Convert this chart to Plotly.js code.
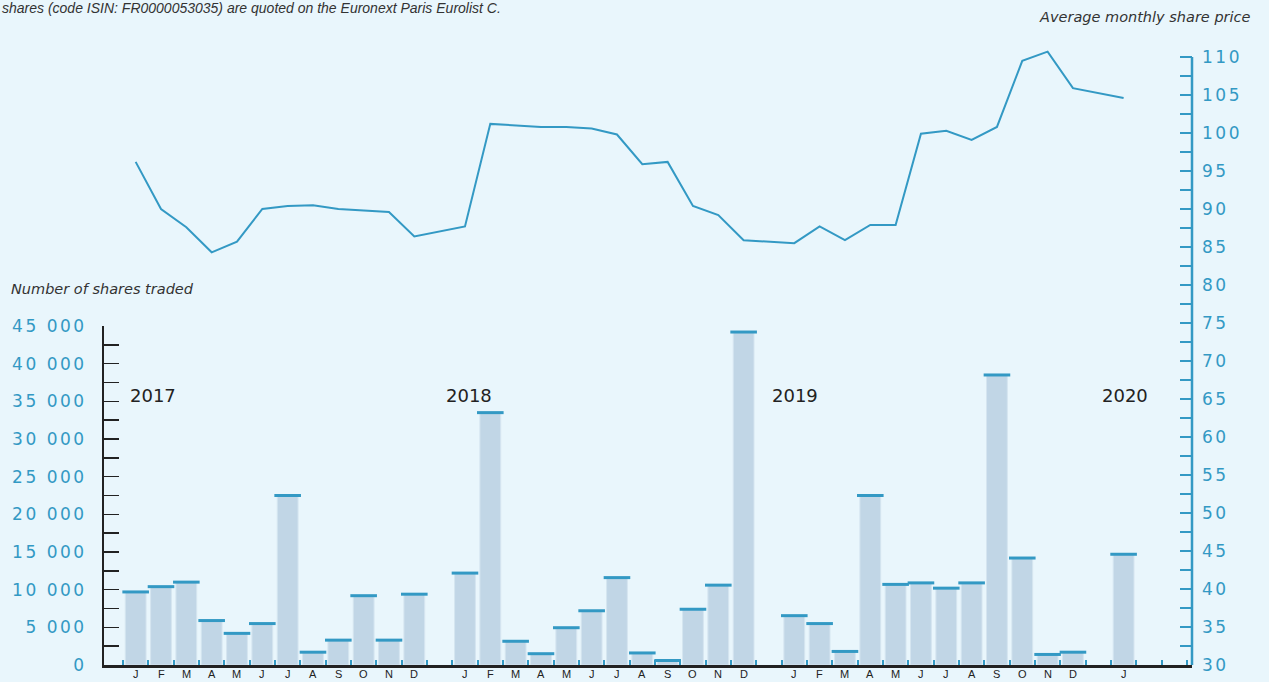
<!DOCTYPE html>
<html>
<head>
<meta charset="utf-8">
<script src="https://cdn.plot.ly/plotly-3.0.1.min.js"></script>
<style>
  html, body { margin: 0; padding: 0; background: #e9f6fc; }
  #chart { width: 1269px; height: 682px; }
  .ytick text, .y2tick text { letter-spacing: 2.5px; }
</style>
</head>
<body>
<div id="chart"></div>
<script>
// ---- data ----
const monthLabels = ['J','F','M','A','M','J','J','A','S','O','N','D'];
const years = ['2017','2018','2019','2020'];

// Number of shares traded (monthly)
const volume2017 = [9700, 10400, 11000, 5900, 4200, 5500, 22500, 1700, 3300, 9200, 3300, 9400];
const volume2018 = [12200, 33500, 3150, 1500, 4950, 7200, 11600, 1600, 600, 7400, 10600, 44200];
const volume2019 = [6550, 5500, 1800, 22500, 10700, 10900, 10200, 10900, 38500, 14200, 1400, 1700];
const volume2020 = [14700];

// Average monthly share price (EUR)
const price2017 = [96.2, 90.0, 87.6, 84.3, 85.7, 90.0, 90.4, 90.5, 90.0, 89.8, 89.6, 86.4];
const price2018 = [87.7, 101.2, 101.0, 100.8, 100.8, 100.6, 99.8, 95.9, 96.2, 90.4, 89.2, 85.9];
const price2019 = [85.5, 87.7, 85.9, 87.9, 87.9, 99.9, 100.3, 99.1, 100.8, 109.5, 110.7, 105.9];
const price2020 = [104.6];

const volumeLeftTicks = [0, 5000, 10000, 15000, 20000, 25000, 30000, 35000, 40000, 45000];
const priceTicks = [30, 35, 40, 45, 50, 55, 60, 65, 70, 75, 80, 85, 90, 95, 100, 105, 110];

// ---- build slot positions (one empty slot between years) ----
const volumesByYear = [volume2017, volume2018, volume2019, volume2020];
const pricesByYear = [price2017, price2018, price2019, price2020];
const slotX = [], vol = [], price = [], tickText = [];
volumesByYear.forEach((arr, k) => {
  arr.forEach((v, m) => {
    slotX.push(k * 13 + m);
    vol.push(v);
    price.push(pricesByYear[k][m]);
    tickText.push(monthLabels[m]);
  });
});

const TEAL = '#3399c4';
const DARK = '#222222';
const BG = '#e9f6fc';

// pixel layout helpers (plot area: y from 47 to 665)
const PLOT_TOP = 47, PLOT_BOTTOM = 665, PLOT_H = PLOT_BOTTOM - PLOT_TOP;
const PLOT_LEFT = 104, PLOT_W = 1088;
const py = pix => (PLOT_BOTTOM - pix) / PLOT_H;
const px = pix => (pix - PLOT_LEFT) / PLOT_W;

const fmt = v => v === 0 ? '0' : String(v).replace(/\B(?=(\d{3})+(?!\d))/g, ' ');

const traces = [
  {
    type: 'bar', x: slotX, y: vol, xaxis: 'x', yaxis: 'y',
    width: 0.82,
    marker: { color: '#c1d6e6', line: { color: '#d5e5f0', width: 1 } },
    hoverinfo: 'skip'
  },
  {
    type: 'scatter', mode: 'markers', x: slotX, y: vol, xaxis: 'x', yaxis: 'y',
    marker: { symbol: 'line-ew', size: 19, color: TEAL, line: { color: TEAL, width: 3 } },
    cliponaxis: false,
    hoverinfo: 'skip'
  },
  {
    type: 'scatter', mode: 'lines', x: slotX, y: price, xaxis: 'x', yaxis: 'y2',
    line: { color: TEAL, width: 2 },
    hoverinfo: 'skip'
  }
];

const ITALIC = { family: 'DejaVu Sans, sans-serif', size: 14.5, color: '#333', style: 'italic' };

const layout = {
  width: 1269, height: 682,
  margin: { l: PLOT_LEFT, r: 77, t: PLOT_TOP, b: 682 - PLOT_BOTTOM },
  paper_bgcolor: BG, plot_bgcolor: 'rgba(0,0,0,0)',
  showlegend: false,
  bargap: 0,
  xaxis: {
    range: [-1.25, 41.7],
    showgrid: false, zeroline: false,
    showline: true, linecolor: DARK, linewidth: 2.5,
    showticklabels: false,
    ticks: '',
    minor: { tick0: -0.5, dtick: 1, ticks: 'inside', ticklen: 5, tickwidth: 2, tickcolor: TEAL, showgrid: false },
    anchor: 'y'
  },
  yaxis: {
    domain: [0, 339 / PLOT_H],
    range: [0, 45000],
    anchor: 'x', side: 'left',
    showgrid: false, zeroline: false,
    showline: true, linecolor: DARK, linewidth: 2,
    tickmode: 'array', tickvals: volumeLeftTicks, ticktext: volumeLeftTicks.map(fmt),
    ticks: 'inside', ticklen: 15, tickwidth: 1.5, tickcolor: DARK,
    ticklabelstandoff: 12,
    tickfont: { family: 'DejaVu Sans, sans-serif', size: 17, color: TEAL },
    minor: { tick0: 0, dtick: 2500, ticks: 'inside', ticklen: 15, tickwidth: 1.5, tickcolor: DARK, showgrid: false }
  },
  yaxis2: {
    domain: [0, 1],
    range: [30, 30 + PLOT_H / 7.6],
    anchor: 'x', side: 'right',
    showgrid: false, zeroline: false,
    showline: false,
    tickmode: 'array', tickvals: priceTicks, ticktext: priceTicks.map(String),
    ticks: 'inside', ticklen: 12, tickwidth: 2, tickcolor: TEAL,
    ticklabelstandoff: 9,
    tickfont: { family: 'DejaVu Sans, sans-serif', size: 17, color: TEAL },
    minor: { tickmode: 'array', tickvals: priceTicks.slice(0, -1).map(v => v + 2.5),
             ticks: 'inside', ticklen: 12, tickwidth: 2, tickcolor: TEAL, showgrid: false }
  },
  shapes: [
    { type: 'line', xref: 'paper', x0: 1, x1: 1, yref: 'y2',
      y0: priceTicks[0], y1: priceTicks[priceTicks.length - 1],
      line: { color: TEAL, width: 2.5 } }
  ],
  annotations: [
    { text: 'shares (code ISIN: FR0000053035) are quoted on the Euronext Paris Eurolist C.',
      xref: 'paper', yref: 'paper', x: px(0), y: py(8),
      xanchor: 'left', yanchor: 'middle', showarrow: false,
      font: { family: 'Liberation Sans, Arial, sans-serif', size: 14, color: '#333', style: 'italic' } },
    { text: 'Average monthly share price',
      xref: 'paper', yref: 'paper', x: px(1253), y: py(17),
      xanchor: 'right', yanchor: 'middle', showarrow: false, font: ITALIC },
    { text: 'Number of shares traded',
      xref: 'paper', yref: 'paper', x: px(9), y: py(289),
      xanchor: 'left', yanchor: 'middle', showarrow: false, font: ITALIC },
    ...years.map((yr, i) => ({
      text: yr, xref: 'paper', yref: 'paper',
      x: px([128, 444, 770, 1100][i]), y: py(395),
      xanchor: 'left', yanchor: 'middle', showarrow: false,
      font: { family: 'DejaVu Sans, sans-serif', size: 18, color: DARK }
    })),
    ...slotX.map((sx, i) => ({
      text: tickText[i], xref: 'x', yref: 'paper', x: sx, y: py(674),
      xanchor: 'center', yanchor: 'middle', showarrow: false, borderpad: 0,
      font: { family: 'Liberation Sans, Arial, sans-serif', size: 11, color: DARK }
    }))
  ]
};

Plotly.newPlot('chart', traces, layout, { displayModeBar: false, staticPlot: true });
</script>
</body>
</html>
